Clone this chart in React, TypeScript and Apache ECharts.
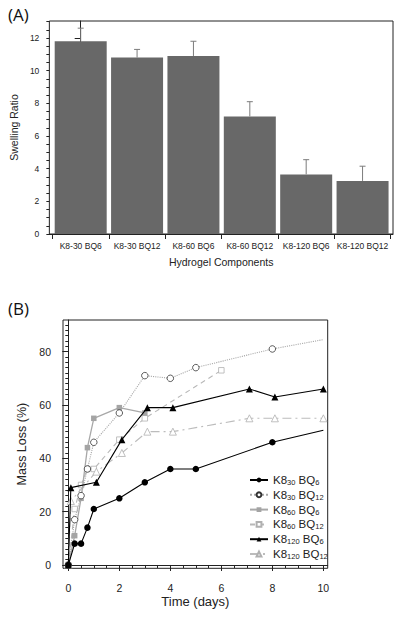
import React, { useEffect, useRef } from 'react';
import * as echarts from 'echarts';

// ---------- Panel A data ----------
const categories = ['K8-30 BQ6', 'K8-30 BQ12', 'K8-60 BQ6', 'K8-60 BQ12', 'K8-120 BQ6', 'K8-120 BQ12'];
const swellingRatio = [11.8, 10.8, 10.9, 7.2, 3.65, 3.25];
const swellingError = [0.8, 0.5, 0.9, 0.9, 0.9, 0.9];
const swellingTicks = [0, 2, 4, 6, 8, 10, 12];
const swellingMinorTicks = [0, 0.5, 1, 1.5, 2, 2.5, 3, 3.5, 4, 4.5, 5, 5.5, 6, 6.5, 7, 7.5, 8, 8.5, 9, 9.5, 10, 10.5, 11, 11.5, 12, 12.5, 13];

// ---------- Panel B data ----------
const k30bq6Days = [0, 0.25, 0.5, 0.75, 1, 2, 3, 4, 5, 8, 10];
const k30bq6Loss = [0, 8, 8, 14, 21, 25, 31, 36, 36, 46, 50.5];
const k30bq12Days = [0, 0.25, 0.5, 0.75, 1, 2, 3, 4, 5, 8, 10];
const k30bq12Loss = [0, 17, 26, 36, 46, 57, 71, 70, 74, 81, 84.5];
const k60bq6Days = [0, 0.25, 0.5, 0.75, 1, 2, 3];
const k60bq6Loss = [0, 11, 25, 44, 55, 59, 57];
const k60bq12Days = [0, 0.25, 0.5, 0.75, 1, 2, 3, 6];
const k60bq12Loss = [0, 21, 30, 36, 36, 47, 55, 73];
const k120bq6Days = [0, 0.1, 1.1, 2.1, 3.1, 4.1, 7.1, 8.1, 10];
const k120bq6Loss = [0, 29, 31, 47, 59, 59, 66, 63, 66];
const k120bq12Days = [0, 0.1, 1.1, 2.1, 3.1, 4.1, 7.1, 8.1, 10];
const k120bq12Loss = [0, 24, 35, 42, 50, 50, 55, 55, 55];

const timeTicks = [0, 2, 4, 6, 8, 10];
const timeMinorTicks = [0, 0.5, 1, 1.5, 2, 2.5, 3, 3.5, 4, 4.5, 5, 5.5, 6, 6.5, 7, 7.5, 8, 8.5, 9, 9.5, 10];
const lossTicks = [0, 20, 40, 60, 80];
const lossMinorTicks = [0, 2, 4, 6, 8, 10, 12, 14, 16, 18, 20, 22, 24, 26, 28, 30, 32, 34, 36, 38, 40, 42, 44, 46, 48, 50, 52, 54, 56, 58, 60, 62, 64, 66, 68, 70, 72, 74, 76, 78, 80, 82, 84, 86, 88, 90];

const FONT = '"Liberation Sans", Arial, sans-serif';
const INK = '#222';

function pts(days: number[], loss: number[], hideLast = false) {
  return days.map((d, i) => {
    if (hideLast && i === days.length - 1) return { value: [d, loss[i]], symbol: 'none' };
    return { value: [d, loss[i]] };
  });
}

function legendLabel(name: string) {
  const m = /K8-(\d+) BQ(\d+)/.exec(name);
  if (!m) return name;
  return `{n|K8}{s|${m[1]}}{n| BQ}{s|${m[2]}}`;
}

export default function App() {
  const ref = useRef<HTMLDivElement>(null);

  useEffect(() => {
    document.body.style.margin = '0';
    const chart = echarts.init(ref.current!, undefined, { renderer: 'svg' });

    const tickLabel = (size: number, margin: number, values: number[]) => ({
      show: true,
      fontSize: size,
      fontFamily: FONT,
      color: INK,
      margin,
      customValues: values,
    });

    const option: any = {
      animation: false,
      backgroundColor: '#fff',
      textStyle: { fontFamily: FONT },
      graphic: [
        { type: 'text', left: 8, top: 6, style: { text: '(A)', font: '17px "Open Sans", sans-serif', fill: '#111' } },
        { type: 'text', left: 8, top: 300, style: { text: '(B)', font: '17px "Open Sans", sans-serif', fill: '#111' } },
      ],
      grid: [
        { left: 44.5, top: 21, width: 348.5, height: 213, show: true, borderColor: INK, borderWidth: 1, backgroundColor: 'transparent' },
        { left: 63, top: 320, width: 264.7, height: 248.3, show: true, borderColor: INK, borderWidth: 1, backgroundColor: 'transparent' },
      ],
      xAxis: [
        {
          gridIndex: 0, type: 'value', min: -0.556, max: 5.54, position: 'bottom',
          name: 'Hydrogel Components', nameLocation: 'middle', nameGap: 22,
          nameTextStyle: { fontSize: 10.5, fontFamily: FONT, color: INK },
          axisLine: { show: true, lineStyle: { color: INK } },
          axisTick: { show: true, length: 5, lineStyle: { color: INK }, customValues: [-0.5, 0.5, 1.5, 2.5, 3.5, 4.5, 5.5] },
          axisLabel: { ...tickLabel(8.5, 7, [0, 1, 2, 3, 4, 5]), formatter: (v: number) => categories[Math.round(v)] ?? '' },
          splitLine: { show: false },
        },
        {
          gridIndex: 1, type: 'value', min: -0.208, max: 10.17, position: 'bottom',
          name: 'Time (days)', nameLocation: 'middle', nameGap: 27,
          nameTextStyle: { fontSize: 13, fontFamily: FONT, color: INK },
          axisLine: { show: true, lineStyle: { color: INK } },
          axisTick: { show: true, length: 6, lineStyle: { color: INK }, customValues: timeTicks },
          axisLabel: tickLabel(10.5, 14, timeTicks),
          splitLine: { show: false },
        },
        {
          gridIndex: 1, type: 'value', min: -0.208, max: 10.17, position: 'bottom',
          axisLine: { show: false },
          axisTick: { show: true, length: 3, lineStyle: { color: INK }, customValues: timeMinorTicks },
          axisLabel: { show: false },
          splitLine: { show: false },
        },
      ],
      yAxis: [
        {
          gridIndex: 0, type: 'value', min: 0, max: 13.04, position: 'left',
          name: 'Swelling Ratio', nameLocation: 'middle', nameGap: 27,
          nameTextStyle: { fontSize: 10.5, fontFamily: FONT, color: INK },
          axisLine: { show: true, lineStyle: { color: INK } },
          axisTick: { show: true, length: 6, lineStyle: { color: INK }, customValues: swellingTicks },
          axisLabel: tickLabel(8.5, 10, swellingTicks),
          splitLine: { show: false },
        },
        {
          gridIndex: 0, type: 'value', min: 0, max: 13.04, position: 'left',
          axisLine: { show: false },
          axisTick: { show: true, length: 3, lineStyle: { color: INK }, customValues: swellingMinorTicks },
          axisLabel: { show: false },
          splitLine: { show: false },
        },
        {
          gridIndex: 1, type: 'value', min: -1.24, max: 91.86, position: 'left',
          name: 'Mass Loss (%)', nameLocation: 'middle', nameGap: 30,
          nameTextStyle: { fontSize: 12.5, fontFamily: FONT, color: INK },
          axisLine: { show: true, lineStyle: { color: INK } },
          axisTick: { show: true, length: 6, lineStyle: { color: INK }, customValues: lossTicks },
          axisLabel: tickLabel(10.5, 12, lossTicks),
          splitLine: { show: false },
        },
        {
          gridIndex: 1, type: 'value', min: -1.24, max: 91.86, position: 'left',
          axisLine: { show: false },
          axisTick: { show: true, length: 3, lineStyle: { color: INK }, customValues: lossMinorTicks },
          axisLabel: { show: false },
          splitLine: { show: false },
        },
      ],
      legend: {
        orient: 'vertical',
        left: 249,
        top: 472.6,
        itemGap: 0,
        itemWidth: 18,
        itemHeight: 6,
        padding: 0,
        data: ['K8-30 BQ6', 'K8-30 BQ12', 'K8-60 BQ6', 'K8-60 BQ12', 'K8-120 BQ6', 'K8-120 BQ12'],
        formatter: legendLabel,
        textStyle: {
          fontFamily: FONT,
          color: INK,
          fontSize: 11,
          lineHeight: 14.8,
          rich: {
            n: { fontSize: 11.5, fontFamily: FONT, color: INK, lineHeight: 14.8 },
            s: { fontSize: 7.5, fontFamily: FONT, color: INK, lineHeight: 14.8, padding: [5, 0, 0, 0] },
          },
        },
      },
      series: [
        {
          type: 'bar', xAxisIndex: 0, yAxisIndex: 0, barWidth: 52,
          itemStyle: { color: '#686868' },
          data: swellingRatio.map((v, i) => [i, v]),
        },
        {
          type: 'custom', xAxisIndex: 0, yAxisIndex: 0, z: 5,
          data: swellingRatio.map((v, i) => [i, v, swellingError[i]]),
          encode: { x: 0, y: 1 },
          renderItem: (params: any, api: any) => {
            const x = api.value(0), y = api.value(1), e = api.value(2);
            const b = api.coord([x, y]);
            const t = api.coord([x, y + e]);
            const stroke = { stroke: '#7c7c7c', lineWidth: 1 };
            return {
              type: 'group',
              children: [
                { type: 'line', shape: { x1: b[0], y1: b[1], x2: t[0], y2: t[1] }, style: stroke },
                { type: 'line', shape: { x1: t[0] - 3, y1: t[1], x2: t[0] + 3, y2: t[1] }, style: stroke },
              ],
            };
          },
        },
        {
          name: 'K8-30 BQ6', type: 'line', xAxisIndex: 1, yAxisIndex: 2,
          symbol: 'circle', symbolSize: 6.5, z: 6,
          itemStyle: { color: '#000' }, lineStyle: { color: '#000', width: 1.1 },
          data: pts(k30bq6Days, k30bq6Loss, true),
        },
        {
          name: 'K8-30 BQ12', type: 'line', xAxisIndex: 1, yAxisIndex: 2,
          symbol: 'circle', symbolSize: 6.5, z: 5,
          itemStyle: { color: '#fff', borderColor: '#333', borderWidth: 0.8 },
          lineStyle: { color: '#a8a8a8', width: 1.1, type: 'dotted' },
          data: pts(k30bq12Days, k30bq12Loss, true),
        },
        {
          name: 'K8-60 BQ6', type: 'line', xAxisIndex: 1, yAxisIndex: 2,
          symbol: 'rect', symbolSize: 5.5, z: 4,
          itemStyle: { color: '#a4a4a4' }, lineStyle: { color: '#a8a8a8', width: 1.3 },
          data: pts(k60bq6Days, k60bq6Loss),
        },
        {
          name: 'K8-60 BQ12', type: 'line', xAxisIndex: 1, yAxisIndex: 2,
          symbol: 'rect', symbolSize: 5.5, z: 3,
          itemStyle: { color: '#fff', borderColor: '#b0b0b0', borderWidth: 0.8 },
          lineStyle: { color: '#b8b8b8', width: 1.1, type: [5, 4] },
          data: pts(k60bq12Days, k60bq12Loss),
        },
        {
          name: 'K8-120 BQ6', type: 'line', xAxisIndex: 1, yAxisIndex: 2,
          symbol: 'triangle', symbolSize: 7, z: 6,
          itemStyle: { color: '#000' }, lineStyle: { color: '#000', width: 1.1 },
          data: pts(k120bq6Days, k120bq6Loss),
        },
        {
          name: 'K8-120 BQ12', type: 'line', xAxisIndex: 1, yAxisIndex: 2,
          symbol: 'triangle', symbolSize: 7, z: 3,
          itemStyle: { color: '#fff', borderColor: '#b0b0b0', borderWidth: 0.8 },
          lineStyle: { color: '#bcbcbc', width: 1.1, type: [9, 4, 2, 4] },
          data: pts(k120bq12Days, k120bq12Loss),
        },
      ],
    };

    chart.setOption(option);
    return () => chart.dispose();
  }, []);

  return <div ref={ref} style={{ position: 'fixed', left: 0, top: 0, width: 401, height: 617 }} />;
}
